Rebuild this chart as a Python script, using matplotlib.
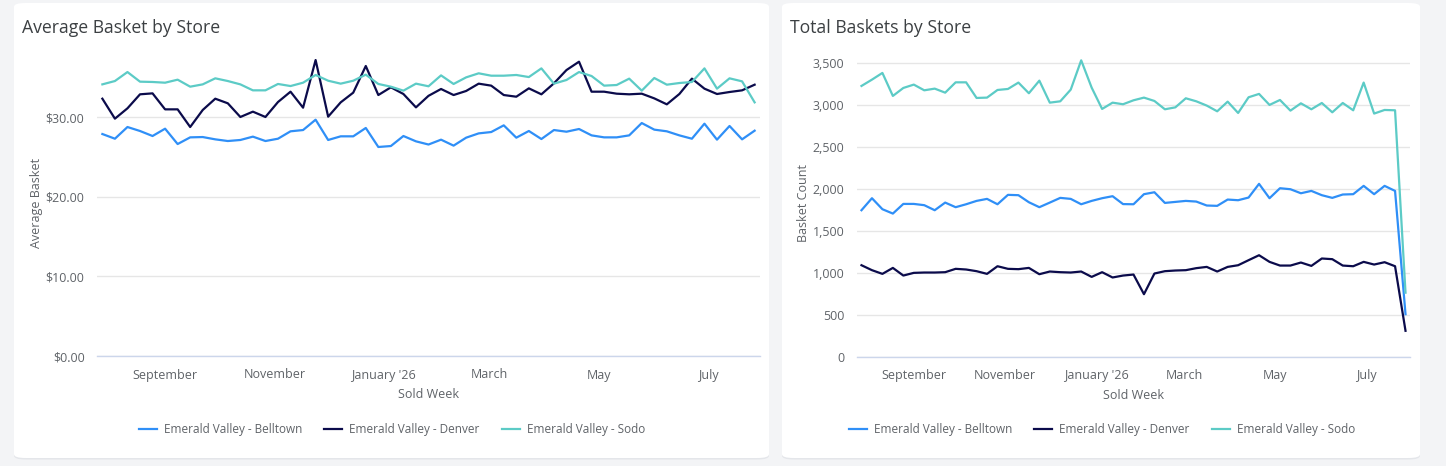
import matplotlib

matplotlib.use("Agg")

import matplotlib.pyplot as plt
import matplotlib.dates as mdates
import pandas as pd
from matplotlib.patches import FancyBboxPatch
from matplotlib.ticker import FuncFormatter


# weekly buckets, Monday start
WEEKS = pd.date_range("2025-07-28", periods=53, freq="W-MON")

STORES = [
    "Emerald Valley - Belltown",
    "Emerald Valley - Denver",
    "Emerald Valley - Sodo",
]
COLORS = ["#2f8ff7", "#0b0b4b", "#5ccbc6"]

AVG_BELLTOWN = [
    27.90, 27.31, 28.78, 28.28, 27.65, 28.57, 26.64, 27.48, 27.52, 27.23,
    27.02, 27.15, 27.57, 27.02, 27.31, 28.24, 28.40, 29.70, 27.15, 27.61,
    27.61, 28.66, 26.27, 26.39, 27.65, 26.98, 26.58, 27.19, 26.44, 27.44,
    27.98, 28.15, 28.99, 27.44, 28.28, 27.27, 28.40, 28.19, 28.53, 27.73,
    27.48, 27.48, 27.73, 29.28, 28.45, 28.24, 27.73, 27.31, 29.20, 27.19,
    28.91, 27.23, 28.32,
]
AVG_DENVER = [
    32.34, 29.83, 31.13, 32.89, 33.01, 31.00, 31.00, 28.78, 30.92, 32.34,
    31.76, 30.04, 30.71, 30.04, 31.92, 33.22, 31.21, 37.20, 30.08, 31.88,
    33.10, 36.45, 32.80, 33.77, 32.93, 31.25, 32.70, 33.56, 32.80, 33.31,
    34.23, 33.98, 32.80, 32.59, 33.64, 32.89, 34.27, 35.94, 36.99, 33.22,
    33.22, 32.97, 32.89, 32.97, 32.38, 31.63, 32.93, 34.86, 33.60, 32.93,
    33.18, 33.39, 34.10,
]
AVG_SODO = [
    34.14, 34.56, 35.69, 34.48, 34.44, 34.35, 34.73, 33.85, 34.14, 34.90,
    34.56, 34.14, 33.39, 33.39, 34.19, 33.93, 34.35, 35.32, 34.60, 34.23,
    34.60, 35.36, 34.19, 33.85, 33.35, 34.23, 33.90, 35.27, 34.19, 35.02,
    35.53, 35.23, 35.23, 35.32, 35.06, 36.15, 34.23, 34.69, 35.69, 35.19,
    33.98, 34.06, 34.86, 33.35, 34.94, 34.10, 34.31, 34.44, 36.15, 33.60,
    34.90, 34.52, 31.88,
]

CNT_BELLTOWN = [
    1742, 1885, 1754, 1702, 1817, 1817, 1802, 1742, 1833, 1778,
    1813, 1853, 1877, 1813, 1925, 1921, 1837, 1778, 1833, 1889,
    1877, 1813, 1853, 1885, 1909, 1815, 1813, 1933, 1956, 1829,
    1841, 1853, 1845, 1798, 1794, 1869, 1861, 1893, 2056, 1885,
    2004, 1992, 1944, 1972, 1921, 1889, 1929, 1933, 2032, 1933,
    2032, 1972, 504,
]
CNT_DENVER = [
    1087, 1028, 984, 1055, 964, 996, 1000, 1000, 1004, 1044,
    1036, 1016, 984, 1075, 1044, 1040, 1055, 980, 1012, 1004,
    1000, 1012, 948, 1004, 941, 964, 976, 742, 988, 1016,
    1024, 1028, 1052, 1067, 1012, 1067, 1087, 1147, 1206, 1127,
    1083, 1083, 1119, 1079, 1167, 1159, 1083, 1075, 1127, 1095,
    1123, 1075, 306,
]
CNT_SODO = [
    3222, 3297, 3377, 3103, 3198, 3238, 3170, 3190, 3142, 3265,
    3265, 3079, 3083, 3174, 3186, 3262, 3135, 3285, 3023, 3039,
    3178, 3527, 3202, 2948, 3023, 3004, 3051, 3083, 3043, 2944,
    2967, 3075, 3039, 2988, 2920, 3035, 2900, 3087, 3127, 2996,
    3055, 2928, 3015, 2944, 3019, 2908, 3019, 2932, 3262, 2893,
    2936, 2932, 760,
]

MONTH_TICKS = pd.to_datetime(
    ["2025-09-01", "2025-11-01", "2026-01-01", "2026-03-01", "2026-05-01", "2026-07-01"]
)
MONTH_LABELS = ["September", "November", "January '26", "March", "May", "July"]

AVG_TICKS = [0, 10, 20, 30]
CNT_TICKS = [0, 500, 1000, 1500, 2000, 2500, 3000, 3500]

W, H = 1446, 466
BG = "#f3f4f6"
GRID = "#e6e6e6"
AXIS_LINE = "#ccd6eb"
TICK_COLOR = "#5f6368"
TITLE_COLOR = "#3c4043"

plt.rcParams["font.family"] = ["Open Sans", "DejaVu Sans"]


def px_box(x0, y0, x1, y1):
    # pixel box (top-left origin) -> figure fraction rect
    return [x0 / W, 1 - y1 / H, (x1 - x0) / W, (y1 - y0) / H]


def add_card(fig, x0, y0, x1, y1):
    shadow = FancyBboxPatch(
        (x0 / W, 1 - (y1 + 1.5) / H),
        (x1 - x0) / W,
        (y1 - y0) / H,
        boxstyle="round,pad=0,rounding_size=0.008",
        transform=fig.transFigure,
        facecolor="#e4e6ea",
        edgecolor="none",
        zorder=0,
    )
    card = FancyBboxPatch(
        (x0 / W, 1 - y1 / H),
        (x1 - x0) / W,
        (y1 - y0) / H,
        boxstyle="round,pad=0,rounding_size=0.008",
        transform=fig.transFigure,
        facecolor="white",
        edgecolor="none",
        zorder=0,
    )
    fig.add_artist(shadow)
    fig.add_artist(card)


def style_axis(ax, ylabel, ticks, fmt, ymax):
    for name in ["top", "right", "left"]:
        ax.spines[name].set_visible(False)
    ax.spines["bottom"].set_color(AXIS_LINE)
    ax.spines["bottom"].set_linewidth(1.0)

    ax.set_ylim(0, ymax)
    ax.set_yticks(ticks)
    ax.yaxis.set_major_formatter(FuncFormatter(fmt))
    ax.grid(axis="y", color=GRID, linewidth=1.0)
    ax.set_axisbelow(True)

    ax.set_xticks(mdates.date2num(MONTH_TICKS))
    ax.set_xticklabels(MONTH_LABELS)
    ax.set_xlim(
        mdates.date2num(WEEKS[0]) - 3,
        mdates.date2num(WEEKS[-1]) + 3,
    )

    ax.tick_params(axis="both", length=0, labelsize=9, colors=TICK_COLOR)
    ax.tick_params(axis="y", pad=9)
    ax.tick_params(axis="x", pad=9)

    ax.set_xlabel("Sold Week", fontsize=9, color=TICK_COLOR, labelpad=5)
    ax.set_ylabel(ylabel, fontsize=9, color=TICK_COLOR, labelpad=2)


def draw_lines(ax, series):
    x = mdates.date2num(WEEKS)
    handles = []
    for values, color, name in zip(series, COLORS, STORES):
        (line,) = ax.plot(x, values, color=color, linewidth=1.6, label=name)
        handles.append(line)
    return handles


def add_legend(fig, handles, center_x):
    fig.legend(
        handles=handles,
        loc="center",
        bbox_to_anchor=(center_x / W, 1 - 430 / H),
        ncol=3,
        frameon=False,
        fontsize=8.5,
        handlelength=1.5,
        handletextpad=0.6,
        columnspacing=1.9,
        labelcolor=TICK_COLOR,
    )


def main():
    fig = plt.figure(figsize=(W / 100, H / 100), dpi=100)
    fig.patch.set_facecolor(BG)

    add_card(fig, 14, 3, 769, 458)
    add_card(fig, 782, 3, 1420, 458)

    # left: average basket
    ax1 = fig.add_axes(px_box(97, 50, 760, 356))
    handles = draw_lines(ax1, [AVG_BELLTOWN, AVG_DENVER, AVG_SODO])
    style_axis(ax1, "Average Basket", AVG_TICKS, lambda v, p: f"${v:,.2f}", 38.46)
    fig.text(22 / W, 1 - 28 / H, "Average Basket by Store",
             fontsize=12.7, color=TITLE_COLOR, va="center", ha="left")
    add_legend(fig, handles, 392)

    # right: total baskets
    ax2 = fig.add_axes(px_box(857, 50, 1410, 356.5))
    handles = draw_lines(ax2, [CNT_BELLTOWN, CNT_DENVER, CNT_SODO])
    style_axis(ax2, "Basket Count", CNT_TICKS, lambda v, p: f"{v:,.0f}", 3650)
    fig.text(790 / W, 1 - 28 / H, "Total Baskets by Store",
             fontsize=12.7, color=TITLE_COLOR, va="center", ha="left")
    add_legend(fig, handles, 1102)

    fig.savefig("out.png", dpi=100, facecolor=BG)
    plt.close(fig)


if __name__ == "__main__":
    main()
